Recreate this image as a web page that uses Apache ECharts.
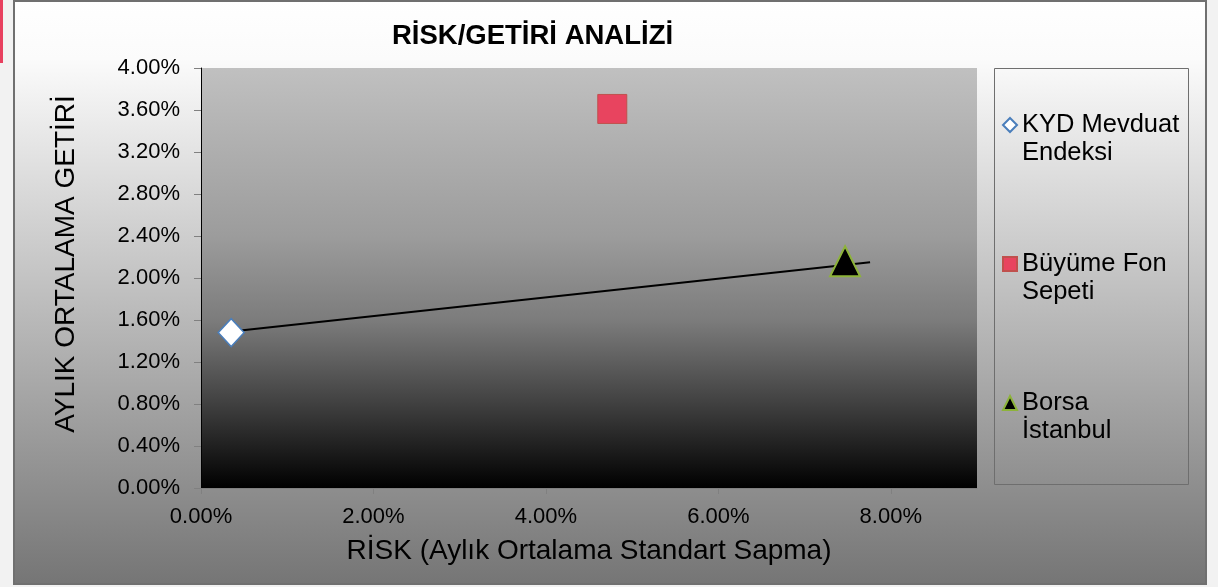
<!DOCTYPE html>
<html>
<head>
<meta charset="utf-8">
<script src="https://cdn.jsdelivr.net/npm/echarts@6/dist/echarts.min.js"></script>
<style>
  html, body { margin: 0; padding: 0; background: #f2f2f2; }
  #main { width: 1218px; height: 587px; }
</style>
</head>
<body>
<div id="main"></div>
<script>
// seriler ve değerler (risk = aylık ortalama standart sapma, getiri = aylık ortalama getiri)
var seriesNames = ["KYD Mevduat Endeksi", "Büyüme Fon Sepeti", "Borsa İstanbul"];
var legendLabels = ["KYD Mevduat\nEndeksi", "Büyüme Fon\nSepeti", "Borsa\nİstanbul"];
var riskValues = [0.0035, 0.0477, 0.0747];
var returnValues = [0.0148, 0.0361, 0.0216];
// trend çizgisi uçları
var trendRisk = [0.0035, 0.0776];
var trendReturn = [0.0149, 0.0215];
// eksen etiketleri
var xTicks = [0, 0.02, 0.04, 0.06, 0.08];
var yTicks = [0, 0.004, 0.008, 0.012, 0.016, 0.02, 0.024, 0.028, 0.032, 0.036, 0.04];

var fontFamily = "Liberation Sans, Arial, sans-serif";
var symbols = ["diamond", "rect", "triangle"];
var symbolSizes = [[26, 28], 29, [30, 30]];
var itemStyles = [
  { color: "#ffffff", borderColor: "#4a7ebb", borderWidth: 1.5, opacity: 1 },
  { color: "#e8445f", borderColor: "#c0504d", borderWidth: 1, opacity: 1 },
  { color: "#000000", borderColor: "#8db33a", borderWidth: 2, opacity: 1 },
];

var chartDom = echarts.init(document.getElementById("main"), null, { renderer: "canvas" });

function pct(v) {
  return (v * 100).toFixed(2) + "%";
}

var series = seriesNames.map(function (name, i) {
  return {
    name: name,
    type: "scatter",
    symbol: symbols[i],
    symbolSize: symbolSizes[i],
    itemStyle: itemStyles[i],
    emphasis: { scale: false },
    data: [[riskValues[i], returnValues[i]]],
    z: 3,
  };
});
series.unshift({
  name: "trend",
  type: "line",
  showSymbol: false,
  silent: true,
  lineStyle: { color: "#000", width: 2 },
  data: trendRisk.map(function (x, i) {
    return [x, trendReturn[i]];
  }),
  z: 2,
});

var option = {
  backgroundColor: "transparent",
  textStyle: { fontFamily: fontFamily },
  graphic: [
    {
      type: "rect",
      z: -100,
      shape: { x: 14, y: 1, width: 1192, height: 583 },
      style: {
        fill: {
          type: "linear", x: 0, y: 0, x2: 0, y2: 1,
          colorStops: [
            { offset: 0, color: "#ffffff" },
            { offset: 0.1, color: "#fbfbfb" },
            { offset: 1, color: "#757575" },
          ],
        },
        stroke: "#707070",
        lineWidth: 2,
      },
    },
    {
      type: "rect",
      z: -100,
      shape: { x: 0, y: 0, width: 3, height: 63 },
      style: { fill: "#e8405f" },
    },
    {
      type: "rect",
      z: -50,
      shape: { x: 994.5, y: 68.5, width: 194, height: 416 },
      style: { fill: "transparent", stroke: "#6e6e6e", lineWidth: 1 },
    },
  ],
  title: {
    text: "RİSK/GETİRİ ANALİZİ",
    left: 387,
    top: 17,
    textStyle: {
      fontFamily: fontFamily,
      fontSize: 27.5,
      fontWeight: "bold",
      color: "#000",
    },
  },
  legend: {
    data: seriesNames,
    orient: "vertical",
    left: 997,
    top: 78,
    itemWidth: 14,
    itemHeight: 14,
    itemGap: 55,
    formatter: function (name) {
      // boş ilk satır: simge ilk yazı satırıyla aynı hizada kalsın
      return "\n" + legendLabels[seriesNames.indexOf(name)];
    },
    textStyle: {
      fontFamily: fontFamily,
      fontSize: 25.5,
      color: "#000",
      lineHeight: 28,
    },
  },
  grid: {
    left: 201,
    top: 68,
    right: 241,
    bottom: 99,
    show: true,
    borderWidth: 0,
    outerBoundsMode: "none",
    backgroundColor: {
      type: "linear", x: 0, y: 0, x2: 0, y2: 1,
      colorStops: [
        { offset: 0, color: "#c0c0c0" },
        { offset: 0.4, color: "#9c9c9c" },
        { offset: 0.6, color: "#7c7c7c" },
        { offset: 0.8, color: "#404040" },
        { offset: 1, color: "#000000" },
      ],
    },
  },
  xAxis: {
    type: "value",
    min: 0,
    max: 0.09,
    interval: 0.02,
    name: "RİSK (Aylık Ortalama Standart Sapma)",
    nameLocation: "middle",
    nameGap: 49,
    nameTextStyle: { fontFamily: fontFamily, fontSize: 28, color: "#000" },
    axisLine: { show: true, lineStyle: { color: "#808080", width: 1 } },
    axisTick: {
      show: true,
      length: 6,
      customValues: xTicks,
      lineStyle: { color: "#808080" },
    },
    axisLabel: {
      customValues: xTicks,
      margin: 18,
      fontSize: 22,
      color: "#000",
      fontFamily: fontFamily,
      formatter: pct,
    },
    splitLine: { show: false },
  },
  yAxis: {
    type: "value",
    min: 0,
    max: 0.04,
    interval: 0.004,
    name: "{s|}AYLIK ORTALAMA GETİRİ",
    nameLocation: "middle",
    nameGap: 121,
    nameTextStyle: {
      fontFamily: fontFamily,
      fontSize: 28,
      color: "#000",
      rich: { s: { width: 28 } },
    },
    axisLine: { show: true, lineStyle: { color: "#000", width: 1 } },
    axisTick: {
      show: true,
      length: 7,
      customValues: yTicks,
      lineStyle: { color: "#808080" },
    },
    axisLabel: {
      customValues: yTicks,
      margin: 21,
      fontSize: 22,
      color: "#000",
      fontFamily: fontFamily,
      formatter: pct,
    },
    splitLine: { show: false },
  },
  series: series,
};

chartDom.setOption(option);
</script>
</body>
</html>
